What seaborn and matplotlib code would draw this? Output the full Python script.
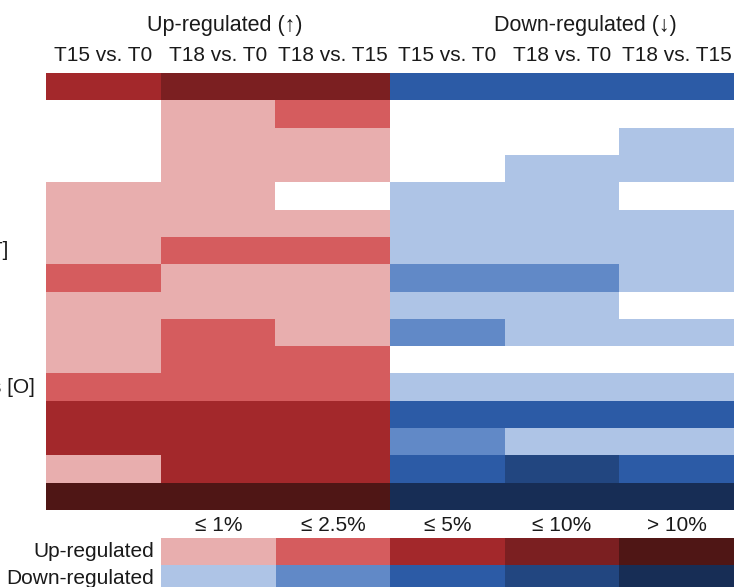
import numpy as np
import pandas as pd
import seaborn as sns
import matplotlib.pyplot as plt
from matplotlib.colors import ListedColormap
from matplotlib.transforms import blended_transform_factory

# levels: 0 = none, 1 = <=1%, 2 = <=2.5%, 3 = <=5%, 4 = <=10%, 5 = >10%
comparisons = ["T15 vs. T0", "T18 vs. T0", "T18 vs. T15"]
level_labels = ["\u2264 1%", "\u2264 2.5%", "\u2264 5%", "\u2264 10%", "> 10%"]

up_levels = [
    [3, 4, 4],
    [0, 1, 2],
    [0, 1, 1],
    [0, 1, 1],
    [1, 1, 0],
    [1, 1, 1],
    [1, 2, 2],
    [2, 1, 1],
    [1, 1, 1],
    [1, 2, 1],
    [1, 2, 2],
    [2, 2, 2],
    [3, 3, 3],
    [3, 3, 3],
    [1, 3, 3],
    [5, 5, 5],
]
down_levels = [
    [3, 3, 3],
    [0, 0, 0],
    [0, 0, 1],
    [0, 1, 1],
    [1, 1, 0],
    [1, 1, 1],
    [1, 1, 1],
    [2, 2, 1],
    [1, 1, 0],
    [2, 1, 1],
    [0, 0, 0],
    [1, 1, 1],
    [3, 3, 3],
    [2, 1, 1],
    [3, 4, 3],
    [5, 5, 5],
]
row_labels = {6: "Signal transduction mechanisms [T]",
              11: "Posttranslational modification, protein turnover, chaperones [O]"}

up_colors = ["#E8AEAE", "#D55C5E", "#A3282B", "#7B1F21", "#4F1615"]
down_colors = ["#AEC4E6", "#6189C7", "#2C5BA6", "#224680", "#172D55"]
cmap = ListedColormap(["#FFFFFF"] + up_colors + down_colors)

# code: 0 white, 1-5 up shades, 6-10 down shades
up = np.array(up_levels)
down = np.array(down_levels)
down_code = np.where(down > 0, down + 5, 0)
codes = pd.DataFrame(np.hstack([up, down_code]),
                     columns=[f"up {c}" for c in comparisons] + [f"down {c}" for c in comparisons])

legend = pd.DataFrame([list(range(1, 6)), list(range(6, 11))],
                      index=["Up-regulated", "Down-regulated"], columns=level_labels)

plt.rcParams["font.family"] = ["Liberation Sans", "DejaVu Sans"]
text_color = "#1A1A1A"

W, H = 734, 587
fig = plt.figure(figsize=(W / 100, H / 100), dpi=100)

ax = fig.add_axes([46 / W, 1 - 510 / H, 688 / W, 437 / H])
sns.heatmap(codes, ax=ax, cmap=cmap, vmin=-0.5, vmax=10.5, cbar=False,
            xticklabels=comparisons * 2, yticklabels=False)
ax.xaxis.tick_top()
ax.tick_params(axis="x", length=0, pad=6, labelsize=15, labelcolor=text_color)
ax.set_xlabel("")
ax.set_ylabel("")

fig.text(225 / W, 1 - 25 / H, "Up-regulated (\u2191)", ha="center", va="center",
         fontsize=15.5, color=text_color)
fig.text(585 / W, 1 - 25 / H, "Down-regulated (\u2193)", ha="center", va="center",
         fontsize=15.5, color=text_color)

# row labels (mostly outside the visible figure)
trans = blended_transform_factory(fig.transFigure, ax.transData)
ends = {6: 8 / W, 11: 35 / W}
for r, lab in row_labels.items():
    ax.text(ends[r], r + 0.5, lab, transform=trans, ha="right", va="center",
            fontsize=15, color=text_color, clip_on=False)

# legend
lax = fig.add_axes([161 / W, 1 - 592 / H, 573 / W, 54 / H])
sns.heatmap(legend, ax=lax, cmap=cmap, vmin=-0.5, vmax=10.5, cbar=False)
lax.xaxis.tick_top()
lax.tick_params(axis="both", length=0, labelsize=15, labelcolor=text_color)
lax.tick_params(axis="x", pad=2)
lax.tick_params(axis="y", pad=5)
for t in lax.get_yticklabels():
    t.set_rotation(0)
lax.set_xlabel("")
lax.set_ylabel("")

fig.savefig("out.png", dpi=100)
